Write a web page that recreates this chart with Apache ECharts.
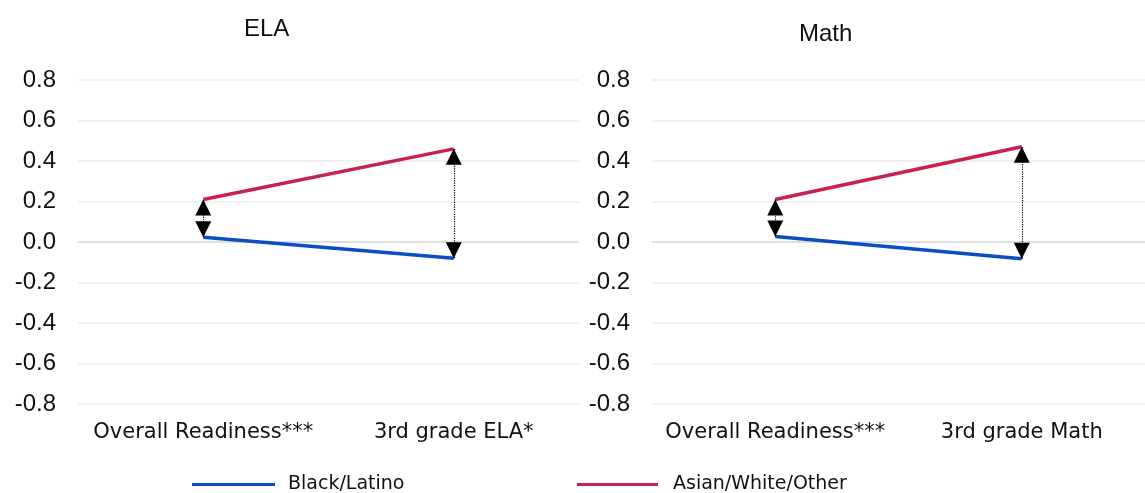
<!DOCTYPE html>
<html>
<head>
<meta charset="utf-8">
<script src="https://cdn.jsdelivr.net/npm/echarts@6/dist/echarts.min.js"></script>
<style>
    html, body { margin: 0; padding: 0; background: #fff; }
    #chart { width: 1145px; height: 493px; }
</style>
</head>
<body>
<div id="chart"></div>
<script>
const elaCategories = ['Overall Readiness***', '3rd grade ELA*'];
const mathCategories = ['Overall Readiness***', '3rd grade Math'];
const elaBlackLatino = [0.024, -0.08];
const elaAsianWhiteOther = [0.21, 0.46];
const mathBlackLatino = [0.027, -0.083];
const mathAsianWhiteOther = [0.21, 0.47];
const yTicks = { min: -0.8, max: 0.8, interval: 0.2 };

const blue = '#0b4dc2';
const red = '#c8214e';
const labelFont = '"DejaVu Sans", sans-serif';
const numFont = '"Liberation Sans", Arial, sans-serif';

function gapArrows(cats, low, high) {
    return cats.map((c, i) => [
        { coord: [c, low[i]] },
        { coord: [c, high[i]] }
    ]);
}

function makeAxes(idx, cats) {
    const xAxis = {
        type: 'category',
        gridIndex: idx,
        data: cats,
        position: 'bottom',
        axisLine: { show: false, onZero: false },
        axisTick: { show: false },
        axisLabel: {
            interval: 0,
            color: '#111',
            fontSize: 21,
            fontFamily: labelFont,
            margin: 18
        }
    };
    const yAxis = {
        type: 'value',
        gridIndex: idx,
        min: yTicks.min,
        max: yTicks.max,
        interval: yTicks.interval,
        axisLine: { show: false },
        axisTick: { show: false },
        axisLabel: {
            color: '#111',
            fontSize: 24,
            fontFamily: numFont,
            margin: 22,
            formatter: v => v.toFixed(1)
        },
        splitLine: { lineStyle: { color: '#ececec', width: 1.5 } }
    };
    return { xAxis, yAxis };
}

function makeSeries(idx, cats, low, high) {
    return [{
        name: 'Black/Latino',
        type: 'line',
        xAxisIndex: idx,
        yAxisIndex: idx,
        data: low,
        symbol: 'none',
        lineStyle: { color: blue, width: 3.5 },
        itemStyle: { color: blue },
        z: 3,
        markLine: {
            silent: true,
            symbol: 'none',
            label: { show: false },
            lineStyle: { color: '#d9d9d9', type: 'solid', width: 1.5 },
            data: [{ yAxis: 0 }],
            z: 1
        }
    }, {
        name: 'Asian/White/Other',
        type: 'line',
        xAxisIndex: idx,
        yAxisIndex: idx,
        data: high,
        symbol: 'none',
        lineStyle: { color: red, width: 3.5 },
        itemStyle: { color: red },
        z: 3,
        markLine: {
            silent: true,
            symbol: ['triangle', 'triangle'],
            symbolSize: 16,
            symbolOffset: [[0, 8], [0, 8]],
            label: { show: false },
            lineStyle: { color: '#000', type: 'dotted', width: 1.2 },
            data: gapArrows(cats, low, high),
            z: 4
        }
    }];
}

const left = makeAxes(0, elaCategories);
const right = makeAxes(1, mathCategories);

const chart = echarts.init(document.getElementById('chart'));
const option = {
    animation: false,
    backgroundColor: '#fff',
    title: [{
        text: 'ELA',
        left: 239,
        top: 12,
        textStyle: { fontSize: 24, fontWeight: 'normal', color: '#111', fontFamily: numFont }
    }, {
        text: 'Math',
        left: 794,
        top: 17,
        textStyle: { fontSize: 24, fontWeight: 'normal', color: '#111', fontFamily: numFont }
    }],
    legend: [{
        data: ['Black/Latino'],
        left: 187,
        top: 470,
        icon: 'rect',
        itemWidth: 83,
        itemHeight: 3,
        textStyle: { fontSize: 19, fontFamily: labelFont, color: '#111', padding: [0, 0, 0, 8] }
    }, {
        data: ['Asian/White/Other'],
        left: 572,
        top: 470,
        icon: 'rect',
        itemWidth: 81,
        itemHeight: 3,
        textStyle: { fontSize: 19, fontFamily: labelFont, color: '#111', padding: [0, 0, 0, 10] }
    }],
    grid: [
        { left: 78, right: 566, top: 80, bottom: 89 },
        { left: 652, right: -7, top: 80, bottom: 89 }
    ],
    xAxis: [left.xAxis, right.xAxis],
    yAxis: [left.yAxis, right.yAxis],
    series: [
        ...makeSeries(0, elaCategories, elaBlackLatino, elaAsianWhiteOther),
        ...makeSeries(1, mathCategories, mathBlackLatino, mathAsianWhiteOther)
    ]
};
chart.setOption(option);
</script>
</body>
</html>
